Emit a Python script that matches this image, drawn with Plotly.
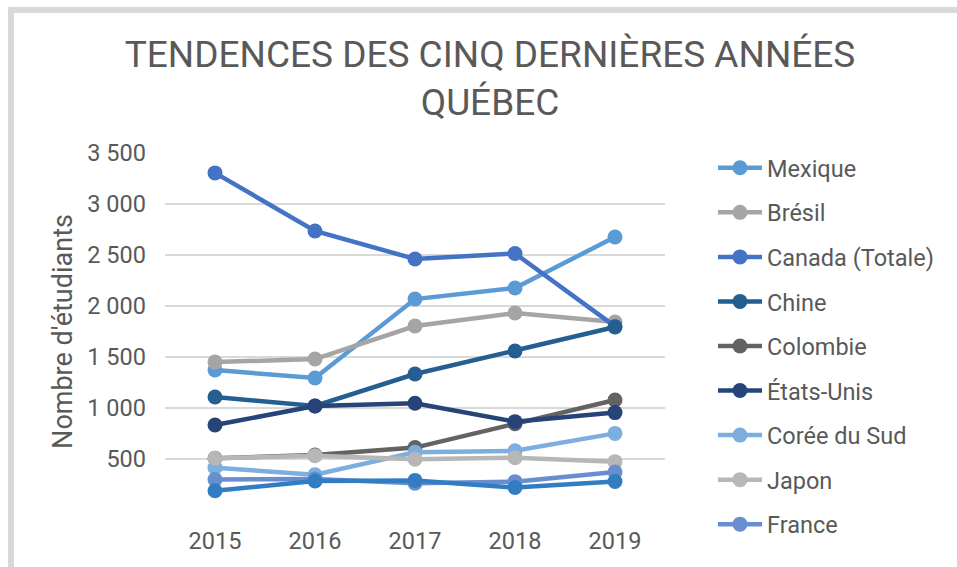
import plotly.graph_objects as go

years = ["2015", "2016", "2017", "2018", "2019"]
series_names = ["Mexique", "Brésil", "Canada (Totale)", "Chine", "Colombie",
                "États-Unis", "Corée du Sud", "Japon", "France", "Autres"]
mexique = [1372, 1294, 2068, 2176, 2676]
bresil = [1450, 1480, 1804, 1931, 1843]
canada = [3305, 2735, 2461, 2515, 1800]
chine = [1108, 1020, 1333, 1559, 1794]
colombie = [507, 539, 612, 845, 1078]
etats_unis = [833, 1020, 1046, 866, 955]
coree = [415, 345, 565, 580, 751]
japon = [507, 533, 497, 513, 474]
france = [298, 305, 262, 278, 372]
autres = [189, 285, 290, 220, 280]
values = [mexique, bresil, canada, chine, colombie, etats_unis, coree, japon, france, autres]
colors = ["#5b9bd5", "#a5a5a5", "#4472c4", "#255e91", "#636363",
          "#264478", "#7cafdd", "#b7b7b7", "#698ed0", "#327dc2"]
ytick_vals = [0, 500, 1000, 1500, 2000, 2500, 3000, 3500]
ytick_text = ["", "500", "1 000", "1 500", "2 000", "2 500", "3 000", "3 500"]

FONT = "Roboto"
TXT = "#595959"
FS = 23.5

fig = go.Figure()
xs = list(range(len(years)))
for i in range(len(series_names)):
    fig.add_trace(go.Scatter(
        x=xs, y=values[i], name=series_names[i], mode="lines+markers",
        line=dict(color=colors[i], width=4.5),
        marker=dict(color=colors[i], size=15),
        legendgroup=series_names[i],
        showlegend=(series_names[i] != "Autres"),
    ))

W, H = 957, 567
L, R, T, B = 165, 665, 153, 510

def px(x):
    return (x - L) / (R - L)

def py(y):
    return (B - y) / (B - T)

fig.update_layout(
    width=W, height=H,
    margin=dict(l=L, r=W - R, t=T, b=H - B),
    paper_bgcolor="white", plot_bgcolor="white",
    font=dict(family=FONT, color=TXT, size=FS),
    title=dict(text="TENDENCES DES CINQ DERNIÈRES ANNÉES<br>QUÉBEC",
               xref="container", x=490 / W, xanchor="center",
               yref="container", y=1 - 67 / H, yanchor="middle",
               font=dict(family=FONT, size=37, color=TXT)),
    xaxis=dict(tickmode="array", tickvals=xs, ticktext=years, range=[-0.5, 4.5],
               showgrid=False, zeroline=False, showline=False, ticks="",
               ticklabelstandoff=14,
               tickfont=dict(size=FS, color=TXT)),
    yaxis=dict(range=[0, 3500], tickmode="array", tickvals=ytick_vals, ticktext=ytick_text,
               showgrid=True, gridcolor="#d9d9d9", gridwidth=1.5, zeroline=False,
               showline=False, ticks="", ticklabelstandoff=18,
               tickfont=dict(size=FS, color=TXT),
               title=dict(text="Nombre d'étudiants", font=dict(size=27, color=TXT), standoff=6)),
    legend=dict(x=px(713), y=py(146), xanchor="left", yanchor="top",
                font=dict(size=FS, color=TXT), tracegroupgap=11,
                bgcolor="rgba(0,0,0,0)", itemwidth=44, maxheight=1000),
    showlegend=True,
)
fig.add_shape(type="rect", xref="paper", yref="paper",
              x0=px(11), x1=px(1100), y0=py(700), y1=py(10),
              line=dict(color="#d9d9d9", width=6), layer="below")

fig.write_html("out.html")
